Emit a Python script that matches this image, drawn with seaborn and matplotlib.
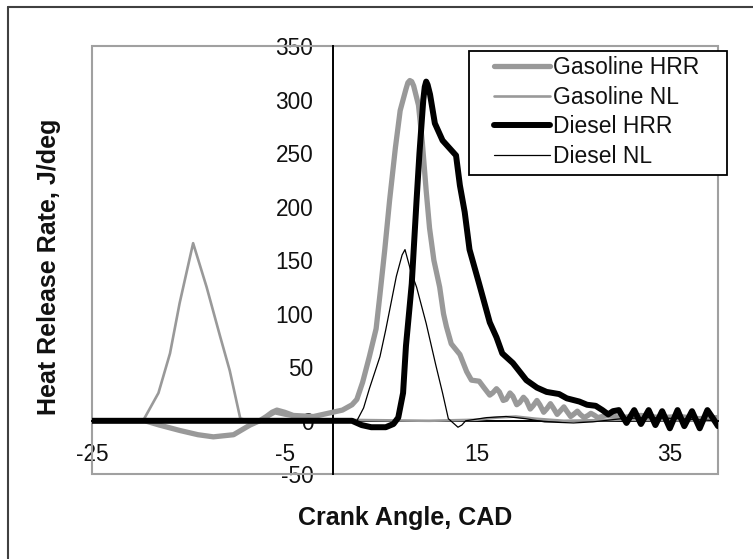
import matplotlib
matplotlib.use("Agg")
import matplotlib.pyplot as plt
from matplotlib.lines import Line2D
from matplotlib.patches import Rectangle
import seaborn as sns

# Crank angle (CAD) and heat release rate (J/deg) for each trace
gas_hrr_cad = [-25, -19.5, -18, -15.9, -14, -12.4, -10.3, -8.6, -7.6, -6.9, -6.3, -5.8,
               -5.0, -4.1, -2, 0, 1, 2, 2.5, 3.1, 3.8, 4.5, 4.9, 5.4, 5.9, 6.5, 7.0, 7.6,
               7.8, 8.0, 8.2, 8.4, 8.9, 9.3, 9.7, 10.05, 10.5, 11.1, 11.5, 11.8, 12.3,
               13.2, 13.9, 14.4, 15.2, 15.7, 16.3, 16.6, 17.0, 17.3, 17.7, 18.0, 18.4,
               18.7, 19.1, 19.4, 19.8, 20.1, 20.5, 20.8, 21.2, 21.5, 21.9, 22.2, 22.6,
               22.9, 23.3, 23.6, 24.0, 24.3, 24.7, 25.0, 25.4, 25.7, 26.1, 26.5, 26.8,
               27.2, 27.5, 28.5, 30, 32, 34, 36, 38, 40]
gas_hrr = [0, 0, -4, -9, -13, -15, -13, -4, 0, 4, 8, 10,
           8, 5, 4, 8, 10, 15, 20, 36, 60, 86, 118, 160, 206, 255, 290, 310,
           316, 318, 317, 313, 295, 260, 215, 180, 150, 125, 100, 88, 72,
           62, 46, 38, 37, 31, 24, 26, 30, 27, 19, 20, 26,
           23, 15, 17, 22, 19, 11, 14, 19, 15, 8, 11, 16,
           12, 6, 9, 13, 9, 4, 6, 9, 6, 3, 5, 7,
           5, 3, 5, 3, 5, 3, 4, 2, 3]

gas_nl_cad = [-25, -19.7, -18.1, -16.9, -15.9, -14.5, -13.1, -11.7, -10.7, -9.6, -8.5,
              -7, -6, -5, -3, 0, 10, 15, 17, 19, 21, 24, 30, 40]
gas_nl = [0, 0, 26, 63, 110, 166, 125, 79, 47, 2, 0,
          2, 7, 5, 2, 1, 0, 1, 3, 4, 2, 0, 1, 0]

dsl_hrr_cad = [-25, 2, 3, 4, 5.5, 6.3, 6.8, 7.3, 7.6, 8.2, 8.7, 9.0, 9.4, 9.55, 9.7,
               9.85, 10.1, 10.6, 11.4, 12.1, 12.8, 13.2, 13.7, 14.2, 15.2, 16.3, 17.0,
               17.6, 18.7, 20.1, 21.2, 22.2, 23.5, 24.3, 25.6, 26.4, 27.3, 28.0, 28.6,
               29.1, 29.7, 30.5, 31.3, 32.0, 32.8, 33.5, 34.2, 35.0, 35.8, 36.5, 37.3,
               38.1, 38.9, 39.5, 40]
dsl_hrr = [0, 0, -4, -6, -6, -3, 3, 26, 70, 128, 206, 250, 300, 312, 317,
           314, 305, 278, 262, 255, 248, 220, 195, 160, 128, 92, 78,
           63, 54, 38, 31, 27, 25, 21, 18, 15, 14, 10, 6,
           9, 10, -2, 10, -3, 10, -4, 9, -7, 10, -5, 9,
           -7, 10, 2, -5]

dsl_nl_cad = [-25, 2.5, 3.2, 3.8, 4.9, 5.5, 6.6, 7.2, 7.5, 8.1, 8.7, 9.7, 10.7, 11.4,
              12.0, 12.5, 13.0, 13.4, 13.8, 14.5, 16, 18, 20, 22, 25, 27, 30, 33, 36, 40]
dsl_nl = [0, 0, 12, 30, 60, 85, 135, 155, 160, 140, 125, 91, 52, 26,
          2, -2, -6, -4, 0, 1, 3, 4, 2, -1, -2, -1, 2, 3, 2, 0]

series_names = ["Gasoline HRR", "Gasoline NL", "Diesel HRR", "Diesel NL"]
x_ticks = [-25, -5, 15, 35]
y_ticks = [-50, 0, 50, 100, 150, 200, 250, 300, 350]

sns.set_style("white")
plt.rcParams["font.family"] = ["Liberation Sans", "DejaVu Sans"]

W, H = 753, 559
fig = plt.figure(figsize=(W / 100, H / 100), dpi=100)


def fx(px):
    return px / W


def fy(py):
    return 1 - py / H


ax = fig.add_axes([fx(92), fy(474.3), fx(718) - fx(92), fy(46.3) - fy(474.3)])

styles = [("#999999", 3.8), ("#999999", 1.9), ("black", 4.3), ("black", 0.9)]
data = [(gas_hrr_cad, gas_hrr), (gas_nl_cad, gas_nl),
        (dsl_hrr_cad, dsl_hrr), (dsl_nl_cad, dsl_nl)]
for name, (xs, ys), (color, lw) in zip(series_names, data, styles):
    sns.lineplot(x=xs, y=ys, ax=ax, color=color, linewidth=lw, label=name,
                 sort=False, estimator=None, zorder=3,
                 solid_joinstyle="round", solid_capstyle="round")

ax.set_xlim(-25, 40)
ax.set_ylim(-50, 350)
ax.set_xticks(x_ticks)
ax.set_yticks(y_ticks)
ax.set_xticklabels([str(t) for t in x_ticks])
ax.set_yticklabels([str(t) for t in y_ticks])
ax.grid(False)

# axes cross at the origin
for side in ("top", "right"):
    ax.spines[side].set_visible(False)
for side in ("left", "bottom"):
    ax.spines[side].set_position(("data", 0))
    ax.spines[side].set_color("black")
    ax.spines[side].set_linewidth(1.4)
    ax.spines[side].set_zorder(2)

text_color = "#111111"
ax.tick_params(axis="both", direction="out", length=6, width=1.2, color="black",
               labelsize=16.3, labelcolor=text_color)
ax.tick_params(axis="x", pad=10)
ax.tick_params(axis="y", pad=8)

# plot-area frame
ax.add_patch(Rectangle((0, 0), 1, 1, transform=ax.transAxes, fill=False,
                       edgecolor="#a0a0a0", linewidth=1.5, clip_on=False, zorder=1))

ax.set_xlabel("Crank Angle, CAD", fontsize=18, fontweight="bold", color=text_color)
ax.set_ylabel("Heat Release Rate, J/deg", fontsize=18, fontweight="bold", color=text_color)
ax.xaxis.label.set_verticalalignment("center")
ax.yaxis.label.set_verticalalignment("center")
ax.xaxis.set_label_coords((405 - 92) / 626, (474.3 - 518) / 428)
ax.yaxis.set_label_coords((49 - 92) / 626, (474.3 - 267) / 428)

# legend: white box with black border, entries placed inside it
ax.add_patch(Rectangle((fx(469), fy(175)), fx(727) - fx(469), fy(51) - fy(175),
                       transform=fig.transFigure, facecolor="white", edgecolor="black",
                       linewidth=1.3, clip_on=False, zorder=4))
handles, labels = ax.get_legend_handles_labels()
leg = ax.legend(handles, labels, loc="upper left",
                bbox_to_anchor=(fx(494), fy(56.2)), bbox_transform=fig.transFigure,
                frameon=False, fontsize=16.5, handlelength=2.45, handletextpad=0.13,
                labelspacing=0.285, borderpad=0, borderaxespad=0)
for t in leg.get_texts():
    t.set_color(text_color)
leg.set_zorder(5)

# outer chart border (top and left edges)
fig.add_artist(Line2D([fx(7.5), 1], [fy(6.5), fy(6.5)], transform=fig.transFigure,
                      color="#404040", linewidth=1.5))
fig.add_artist(Line2D([fx(7.5), fx(7.5)], [fy(6.5), 0], transform=fig.transFigure,
                      color="#404040", linewidth=1.5))

fig.savefig("out.png", dpi=100, facecolor="white")
